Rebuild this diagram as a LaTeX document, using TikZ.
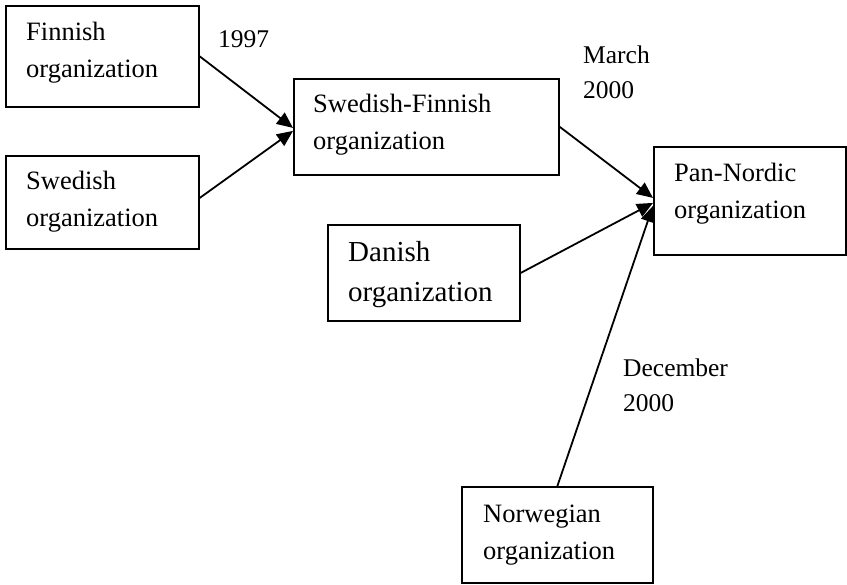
\documentclass[tikz,border=0pt]{standalone}
\usepackage{fontspec}
\setmainfont{Liberation Serif}
\usetikzlibrary{arrows.meta,calc}
\newcommand{\twoline}[2]{\begin{tabular}[t]{@{}l@{}}#1\\#2\end{tabular}}
\begin{document}
\begin{tikzpicture}[x=1pt,y=-1pt,
  box/.style={draw, line width=1.8pt, rectangle, inner sep=0pt, anchor=north west},
  txt/.style={anchor=base west, inner sep=0pt, font=\fontsize{26.5}{37}\selectfont},
  bigtxt/.style={anchor=base west, inner sep=0pt, font=\fontsize{29}{40}\selectfont},
  lbl/.style={anchor=base west, inner sep=0pt, font=\fontsize{25.5}{35}\selectfont},
  conn/.style={line width=1.8pt, -{Triangle[length=16pt,width=14pt]}}]
\useasboundingbox (0,0) rectangle (847,585);

% boxes
\node[box, minimum width=193pt, minimum height=101pt] (fin) at (5,5) {};
\node[box, minimum width=193pt, minimum height=93pt]  (swe) at (5,155) {};
\node[box, minimum width=265pt, minimum height=96pt]  (sf)  at (293,78) {};
\node[box, minimum width=192pt, minimum height=108pt] (pn)  at (653,146) {};
\node[box, minimum width=192pt, minimum height=96pt]  (dan) at (327,224) {};
\node[box, minimum width=191pt, minimum height=96pt]  (nor) at (461,486) {};

% box texts
\node[txt] (fint) at ($(fin.north west)+(21,36)$) {\twoline{Finnish}{organization}};
\node[txt] (swet) at ($(swe.north west)+(21,35)$) {\twoline{Swedish}{organization}};
\node[txt] (sft)  at ($(sf.north west)+(20,35)$)  {\twoline{Swedish-Finnish}{organization}};
\node[txt] (pnt)  at ($(pn.north west)+(21,36)$)  {\twoline{Pan-Nordic}{organization}};
\node[bigtxt] (dant) at ($(dan.north west)+(21,38)$) {\twoline{Danish}{organization}};
\node[txt] (nort) at ($(nor.north west)+(22,36)$) {\twoline{Norwegian}{organization}};

% connectors
\draw[conn] (fin.east) -- ([yshift=-1pt]sf.west);
\draw[conn] ([yshift=4.5pt]swe.east) -- ([yshift=-4pt]sf.west);
\draw[conn] (sf.east) -- ([yshift=3pt]pn.west);
\draw[conn] (dan.east) -- ([yshift=-2pt]pn.west);
\draw[conn] (nor.north) -- ([yshift=-5pt]pn.west);

% labels
\node[lbl] (l1997) at (218,48) {1997};
\node[lbl] (lmarch) at (583,64) {\twoline{March}{2000}};
\node[lbl] (ldec) at (623,377) {\twoline{December}{2000}};
\end{tikzpicture}
\end{document}
